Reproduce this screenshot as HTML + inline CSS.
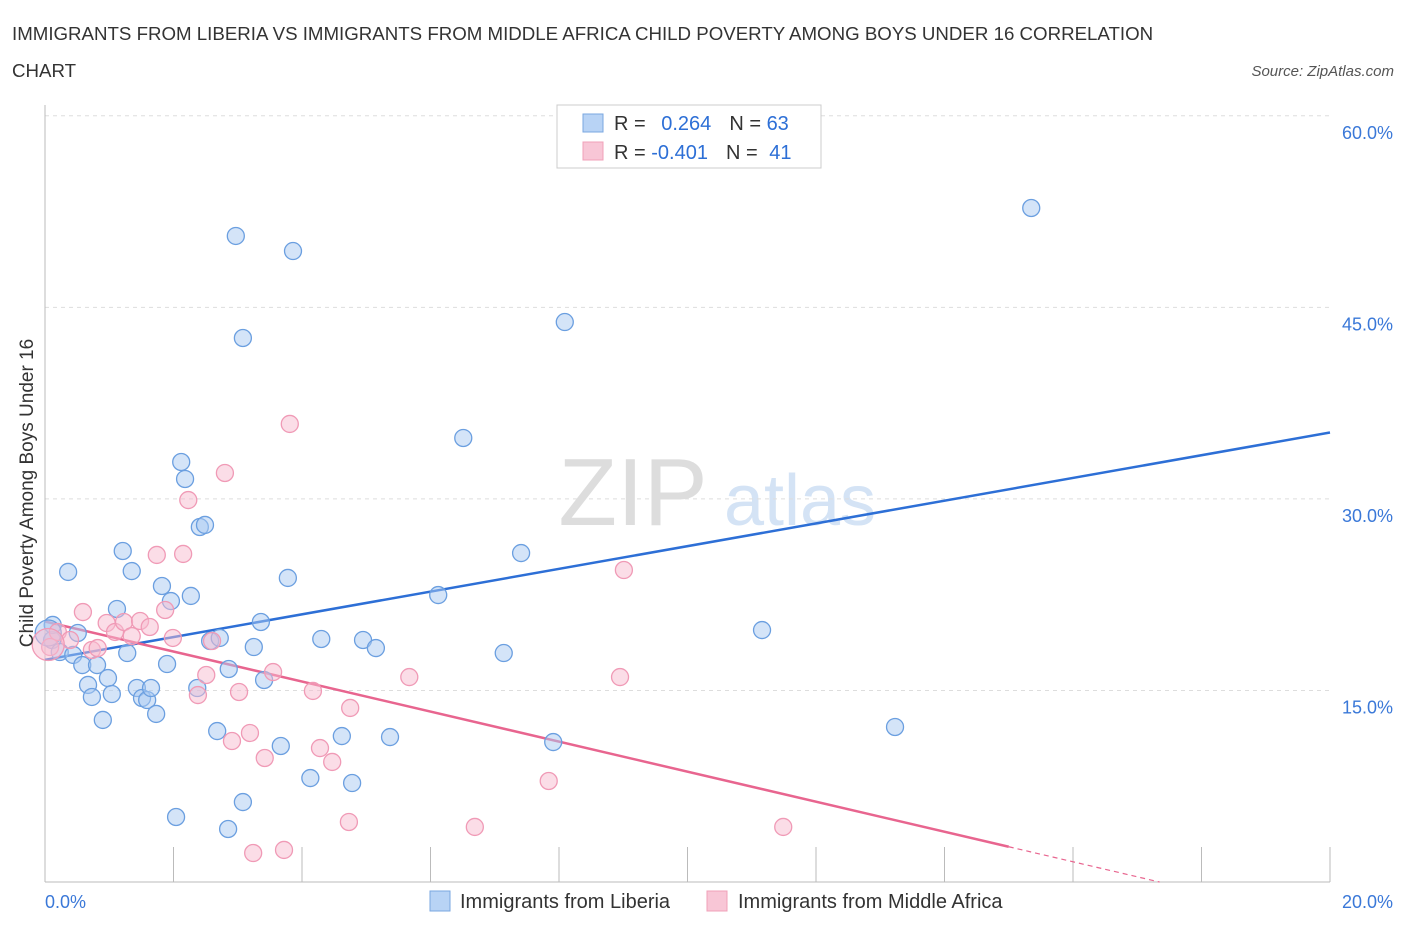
<!DOCTYPE html>
<html><head><meta charset="utf-8"><style>
body{margin:0;background:#fff;font-family:"Liberation Sans",sans-serif;}
svg text{font-family:"Liberation Sans",sans-serif;}
</style></head><body>
<svg id="chart" width="1406" height="930" viewBox="0 0 1406 930">
<text x="12" y="40" font-size="18.7" fill="#333">IMMIGRANTS FROM LIBERIA VS IMMIGRANTS FROM MIDDLE AFRICA CHILD POVERTY AMONG BOYS UNDER 16 CORRELATION</text>
<text x="12" y="77" font-size="18.7" fill="#333">CHART</text>
<text x="1394" y="76" font-size="15" fill="#555" font-style="italic" text-anchor="end">Source: ZipAtlas.com</text>
<g>
<text x="633" y="525" font-size="96" fill="#ddd" font-family="Liberation Serif,serif" text-anchor="middle">ZIP</text>
<text x="800" y="525" font-size="72" fill="#d4e3f5" text-anchor="middle">atlas</text>
</g>
<g id="grid"></g>
<g id="axes"></g>
<g id="lines"></g>
<g id="pts"></g>
<text transform="translate(33,493) rotate(-90)" font-size="19" fill="#333" text-anchor="middle">Child Poverty Among Boys Under 16</text>
<g>
<rect x="557" y="105" width="264" height="63" fill="#fff" stroke="#ccc"/>
<rect x="583" y="114" width="20" height="18" fill="#b8d3f5" stroke="#7aa7e0"/>
<rect x="583" y="142" width="20" height="18" fill="#f8c6d6" stroke="#f0a0b8"/>
<text x="614" y="130" font-size="20" fill="#333">R = <tspan fill="#2d6fd6" dx="10">0.264</tspan><tspan dx="18" fill="#333">N = </tspan><tspan fill="#2d6fd6">63</tspan></text>
<text x="614" y="159" font-size="20" fill="#333">R = <tspan fill="#2d6fd6">-0.401</tspan><tspan dx="18" fill="#333">N = </tspan><tspan fill="#2d6fd6" dx="6">41</tspan></text>
</g>
<g>
<rect x="430" y="891" width="20" height="20" fill="#b8d3f5" stroke="#7aa7e0"/>
<text x="460" y="908" font-size="20" fill="#333">Immigrants from Liberia</text>
<rect x="707" y="891" width="20" height="20" fill="#f8c6d6" stroke="#f0a0b8"/>
<text x="738" y="908" font-size="20" fill="#333">Immigrants from Middle Africa</text>
</g>
</svg>
<script>
const blueX=[0.11,0.12,0.23,0.36,0.44,0.51,0.58,0.67,0.73,0.81,0.90,0.98,1.04,1.12,1.21,1.28,1.35,1.43,1.51,1.59,1.65,1.73,1.82,1.90,1.96,2.04,2.12,2.18,2.27,2.37,2.41,2.49,2.57,2.68,2.72,2.85,2.86,2.97,3.08,3.08,3.25,3.36,3.41,3.67,3.78,3.86,4.13,4.30,4.62,4.78,4.95,5.15,5.37,6.12,6.51,7.14,7.41,7.91,8.09,11.16,13.23,15.35,0.05];
const blueY=[18.95,20.13,18.01,24.28,17.78,19.50,16.99,15.43,14.49,16.99,12.69,15.97,14.72,21.38,25.92,17.93,24.35,15.19,14.41,14.25,15.19,13.16,23.18,17.07,22.00,5.09,32.89,31.56,22.40,15.19,27.80,27.96,18.87,11.82,19.11,4.15,16.68,50.59,6.26,42.60,18.40,20.36,15.82,10.65,23.81,49.41,8.14,19.03,11.43,7.75,18.95,18.32,11.35,22.47,34.77,17.93,25.76,10.96,43.85,19.73,12.14,52.78,19.5];
const pinkX=[0.08,0.20,0.39,0.59,0.73,0.82,0.96,1.09,1.23,1.35,1.48,1.63,1.74,1.87,1.99,2.15,2.23,2.38,2.51,2.60,2.80,2.91,3.02,3.19,3.24,3.42,3.55,3.72,3.81,4.17,4.28,4.47,4.75,4.73,5.67,6.69,7.84,8.95,9.01,11.49,0.05];
const pinkY=[18.40,19.58,18.95,21.14,18.17,18.32,20.28,19.58,20.36,19.26,20.44,19.97,25.61,21.30,19.11,25.69,29.91,14.64,16.21,18.87,32.03,11.04,14.88,11.67,2.27,9.71,16.44,2.51,35.87,14.96,10.49,9.40,13.63,4.70,16.05,4.31,7.91,16.05,24.43,4.31,18.6];
const yTicks=[15,30,45,60];
const xTicks=[0,2,4,6,8,10,12,14,16,18,20];
const blueLine=[17.4,35.2];
const pinkLine=[20.4,-1.176];
const NS="http://www.w3.org/2000/svg";
const X=v=>45+v*64.25, Y=v=>882-v*12.77;
function mk(t,a,p){const e=document.createElementNS(NS,t);for(const k in a)e.setAttribute(k,a[k]);p.appendChild(e);return e;}
const grid=document.getElementById('grid'),axes=document.getElementById('axes'),lines=document.getElementById('lines'),pts=document.getElementById('pts');
yTicks.forEach(t=>{const l=mk('line',{x1:45,x2:1330,y1:Y(t),y2:Y(t),stroke:'#ddd','stroke-dasharray':'4,4'},grid);


const tx=mk('text',{x:1393,y:Y(t)+23,'font-size':18,fill:'#3a78d8','text-anchor':'end'},axes);tx.textContent=t.toFixed(1)+'%';

});
const ax=mk('line',{x1:45,x2:1330,y1:882,y2:882,stroke:'#bbb'},axes);


const ay=mk('line',{x1:45,x2:45,y1:105,y2:882,stroke:'#bbb'},axes);


xTicks.forEach(t=>{const l=mk('line',{x1:X(t),x2:X(t),y1:847,y2:882,stroke:'#bbb'},axes);

});
[[0,'start',45],[20,'end',1393]].forEach(([t,a,x])=>{const tx=mk('text',{x:x,y:908,'font-size':18,fill:'#3a78d8','text-anchor':a},axes);tx.textContent=t.toFixed(1)+'%';

});
function pt(x,y,r,f,s){const c=mk('circle',{cx:X(x),cy:Y(y),r:r,fill:f,'fill-opacity':0.5,stroke:s,'stroke-width':1.3},pts);return c;}
blueX.forEach((x,i)=>{const c=pt(x,blueY[i],i==blueX.length-1?13:8.5,'#a9c9f2','#6b9fe0');

});
pinkX.forEach((x,i)=>{const c=pt(x,pinkY[i],i==pinkX.length-1?16:8.5,'#f7bcd0','#f09ab6');

});
const bl=mk('line',{x1:X(0),y1:Y(blueLine[0]),x2:X(20),y2:Y(blueLine[1]),stroke:'#2d6fd6','stroke-width':2.5},lines);


const xe=15.0, x0=pinkLine[0]/-pinkLine[1];
const pl=mk('line',{x1:X(0),y1:Y(pinkLine[0]),x2:X(xe),y2:Y(pinkLine[0]+pinkLine[1]*xe),stroke:'#e8658f','stroke-width':2.5},lines);


const pd=mk('line',{x1:X(xe),y1:Y(pinkLine[0]+pinkLine[1]*xe),x2:X(x0),y2:Y(0),stroke:'#e8658f','stroke-width':1.2,'stroke-dasharray':'5,4'},lines);


</script>
</body></html>
